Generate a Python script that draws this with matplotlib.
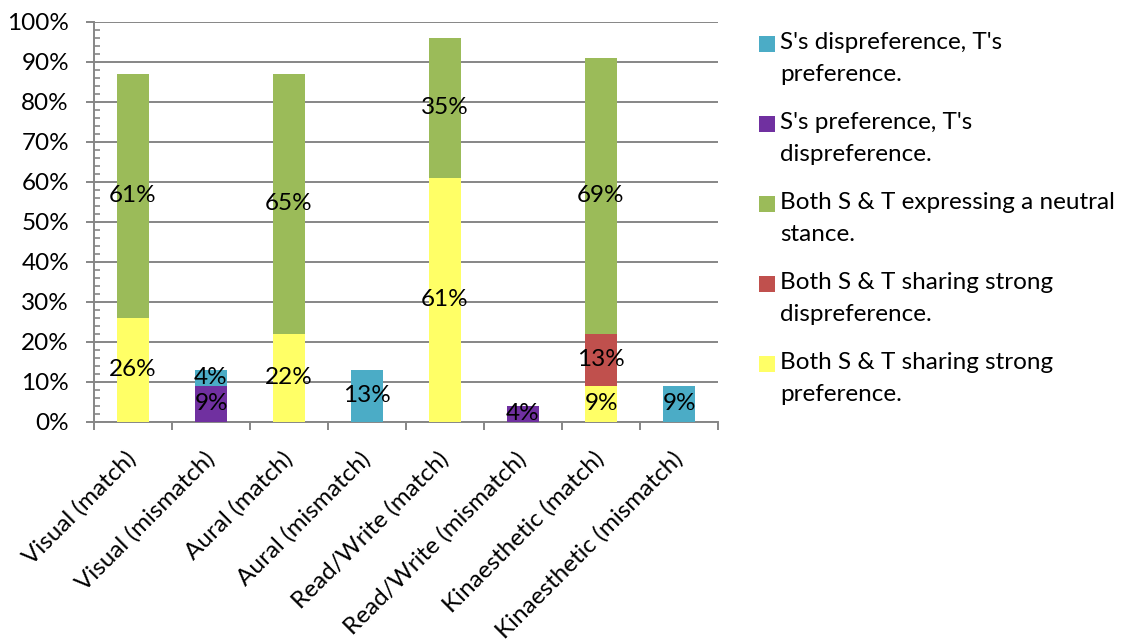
import matplotlib
matplotlib.use("Agg")
import matplotlib.pyplot as plt
from matplotlib.patches import Rectangle
from matplotlib.ticker import MultipleLocator, FuncFormatter

plt.rcParams['font.family'] = ['Lato', 'DejaVu Sans']

categories = ["Visual (match)", "Visual (mismatch)", "Aural (match)", "Aural (mismatch)",
              "Read/Write (match)", "Read/Write (mismatch)", "Kinaesthetic (match)",
              "Kinaesthetic (mismatch)"]

# stacked bottom to top
strong_pref = [26, 0, 22, 0, 61, 0, 9, 0]
strong_dispref = [0, 0, 0, 0, 0, 0, 13, 0]
neutral = [61, 0, 65, 0, 35, 0, 69, 0]
s_pref_t_dispref = [0, 9, 0, 0, 0, 4, 0, 0]
s_dispref_t_pref = [0, 4, 0, 13, 0, 0, 0, 9]

series = [
    (strong_pref, "#FFFF66", "Both S & T sharing strong\npreference."),
    (strong_dispref, "#C0504D", "Both S & T sharing strong\ndispreference."),
    (neutral, "#9BBB59", "Both S & T expressing a neutral\nstance."),
    (s_pref_t_dispref, "#7030A0", "S's preference, T's\ndispreference."),
    (s_dispref_t_pref, "#4BACC6", "S's dispreference, T's\npreference."),
]

W, H = 1125, 643
fig = plt.figure(figsize=(W / 100, H / 100), dpi=100)
ax = fig.add_axes([94 / W, (H - 422) / H, (718 - 94) / W, 400 / H])

grid_c = "#868686"
fs = 17.5

x = list(range(len(categories)))
bottom = [0] * len(categories)
for vals, color, label in series:
    ax.bar(x, vals, width=0.4, bottom=bottom, color=color, zorder=3)
    for i, v in enumerate(vals):
        if v > 0:
            ax.text(i, bottom[i] + v / 2, f"{v}%", ha="center", va="center",
                    fontsize=fs, color="black", zorder=4)
    bottom = [b + v for b, v in zip(bottom, vals)]

ax.set_xlim(-0.5, len(categories) - 0.5)
ax.set_ylim(0, 100)

ax.yaxis.set_major_locator(MultipleLocator(10))
ax.yaxis.set_minor_locator(MultipleLocator(2))
ax.yaxis.set_major_formatter(FuncFormatter(lambda v, p: f"{int(round(v))}%"))
ax.grid(axis="y", which="major", color=grid_c, linewidth=1.4, zorder=0)
ax.set_axisbelow(True)

ax.set_xticks(x)
ax.set_xticklabels(categories, rotation=45, ha="right", va="center",
                   rotation_mode="anchor", fontsize=fs)
ax.set_xticks([i - 0.5 for i in range(len(categories) + 1)], minor=True)

for s in ["top", "right"]:
    ax.spines[s].set_visible(False)
for s in ["left", "bottom"]:
    ax.spines[s].set_color(grid_c)
    ax.spines[s].set_linewidth(1.4)

ax.tick_params(axis="y", which="major", length=6, width=1.4, color=grid_c,
               direction="out", labelsize=fs, pad=12)
ax.tick_params(axis="y", which="minor", length=4, width=1.2, color=grid_c,
               direction="in")
ax.tick_params(axis="x", which="major", length=0, pad=24)
ax.tick_params(axis="x", which="minor", length=6, width=1.4, color=grid_c,
               direction="out")

# legend, top entry first
leg_x_box = 759
leg_x_text = 780
leg_y0 = 44
leg_step = 80
for k, (vals, color, label) in enumerate(reversed(series)):
    yc = leg_y0 + k * leg_step
    fig.add_artist(Rectangle(((leg_x_box) / W, (H - yc - 8) / H), 16 / W, 16 / H,
                             transform=fig.transFigure, facecolor=color,
                             edgecolor="none"))
    fig.text(leg_x_text / W, (H - yc + 12) / H, label, ha="left", va="top",
             fontsize=fs, linespacing=1.62, color="black")

fig.savefig("out.png", dpi=100)
